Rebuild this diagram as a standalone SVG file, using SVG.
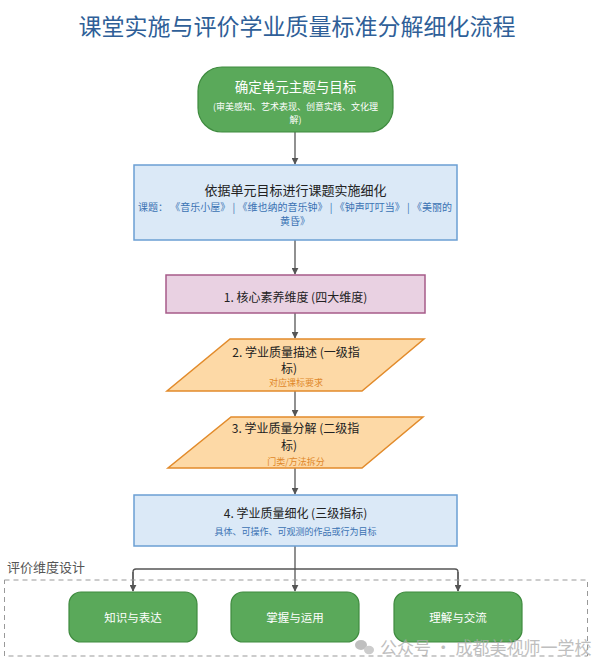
<svg xmlns="http://www.w3.org/2000/svg" width="595" height="660" viewBox="0 0 595 660">
<defs>
<marker id="ah" viewBox="0 0 10 10" refX="9" refY="5" markerWidth="7" markerHeight="7" markerUnits="userSpaceOnUse" orient="auto">
<path d="M0,0 L10,5 L0,10 z" fill="#555"/>
</marker>
<style>
text{font-family:"Noto Sans CJK SC","Noto Sans",sans-serif;text-anchor:middle}
.title{font-size:23px;fill:#2f5f98}
.green{fill:#5aa95a;stroke:#3f8b3f;stroke-width:1.2}
.blue{fill:#dbe9f7;stroke:#6b9fd3;stroke-width:1.5}
.pink{fill:#e9d1e2;stroke:#a65b89;stroke-width:1.5}
.orange{fill:#fdd9a6;stroke:#e28b2b;stroke-width:1.5}
.wt{fill:#fff;font-size:13.5px}
.ws{fill:#fff;font-size:9px}
.dt{fill:#222;font-size:12px}
.bt{fill:#222;font-size:13px}
.bs{fill:#3a72b3;font-size:10px}
.os{fill:#e0882a;font-size:9px}
.bs9{fill:#3a72b3;font-size:9px}
.gt{fill:#fff;font-size:11.5px}
.conn{fill:none;stroke:#555;stroke-width:1.3}
</style>
</defs>
<text class="title" x="297" y="35">课堂实施与评价学业质量标准分解细化流程</text>

<g id="connectors">
<path class="conn" d="M295,132 V164" marker-end="url(#ah)"/>
<path class="conn" d="M295,240 V274" marker-end="url(#ah)"/>
<path class="conn" d="M295,313 V338" marker-end="url(#ah)"/>
<path class="conn" d="M295,391 V416" marker-end="url(#ah)"/>
<path class="conn" d="M295,468 V494" marker-end="url(#ah)"/>
<path class="conn" d="M295,546 V569 M133,591 V572 Q133,569 136,569 H455 Q458,569 458,572 V591" />
<path class="conn" d="M133,572 V591" marker-end="url(#ah)"/>
<path class="conn" d="M295,569 V591" marker-end="url(#ah)"/>
<path class="conn" d="M458,572 V591" marker-end="url(#ah)"/>
</g>

<g id="n1">
<rect class="green" x="198" y="67" width="195" height="65" rx="24"/>
<text class="wt" x="295.5" y="92">确定单元主题与目标</text>
<text class="ws" x="295.5" y="110">(审美感知、艺术表现、创意实践、文化理</text>
<text class="ws" x="295.5" y="122.5">解)</text>
</g>

<g id="n2">
<rect class="blue" x="134" y="165" width="323" height="75"/>
<text class="bt" x="295.5" y="195">依据单元目标进行课题实施细化</text>
<text class="bs" x="295" y="211">课题： 《音乐小屋》 | 《维也纳的音乐钟》 | 《钟声叮叮当》 | 《美丽的</text>
<text class="bs" x="295" y="224.5">黄昏》</text>
</g>

<g id="n3">
<rect class="pink" x="166" y="275" width="259" height="38"/>
<text class="dt" x="295.5" y="301.5">1. 核心素养维度 (四大维度)</text>
</g>

<g id="n4">
<polygon class="orange" points="230,339 424,339 362,391 167,391"/>
<text class="dt" x="296" y="356.5">2. 学业质量描述 (一级指</text>
<text class="dt" x="289" y="372.5">标)</text>
<text class="os" x="296" y="385.5">对应课标要求</text>
</g>

<g id="n5">
<polygon class="orange" points="231,417 423,417 362,468 168,468"/>
<text class="dt" x="295.5" y="432.5">3. 学业质量分解 (二级指</text>
<text class="dt" x="289" y="449.5">标)</text>
<text class="os" x="296" y="464.5">门类/方法拆分</text>
</g>

<g id="n6">
<rect class="blue" x="134" y="495" width="323" height="51"/>
<text class="dt" x="295.5" y="517.5">4. 学业质量细化 (三级指标)</text>
<text class="bs9" x="295.5" y="535">具体、可操作、可观测的作品或行为目标</text>
</g>

<g id="group-eval">
<text x="7" y="571.5" style="text-anchor:start;font-size:13px;fill:#555">评价维度设计</text>
<rect x="4.5" y="580" width="583" height="76" fill="none" stroke="#999" stroke-width="1" stroke-dasharray="5,4"/>
</g>

<g id="e1">
<rect class="green" x="69" y="592" width="128" height="50" rx="12"/>
<text class="gt" x="133" y="622">知识与表达</text>
</g>
<g id="e2">
<rect class="green" x="231" y="592" width="128" height="50" rx="12"/>
<text class="gt" x="295" y="622">掌握与运用</text>
</g>
<g id="e3">
<rect class="green" x="394" y="592" width="128" height="50" rx="12"/>
<text class="gt" x="458" y="622">理解与交流</text>
</g>

<g id="watermark" opacity="0.75">
<ellipse cx="361" cy="645" rx="6" ry="5" fill="#aaa"/>
<ellipse cx="369" cy="650" rx="5" ry="4.2" fill="#bbb"/>
<text x="380" y="654" style="text-anchor:start;font-size:17px;fill:#aaa">公众号 · 成都美视师一学校</text>
</g>
</svg>
